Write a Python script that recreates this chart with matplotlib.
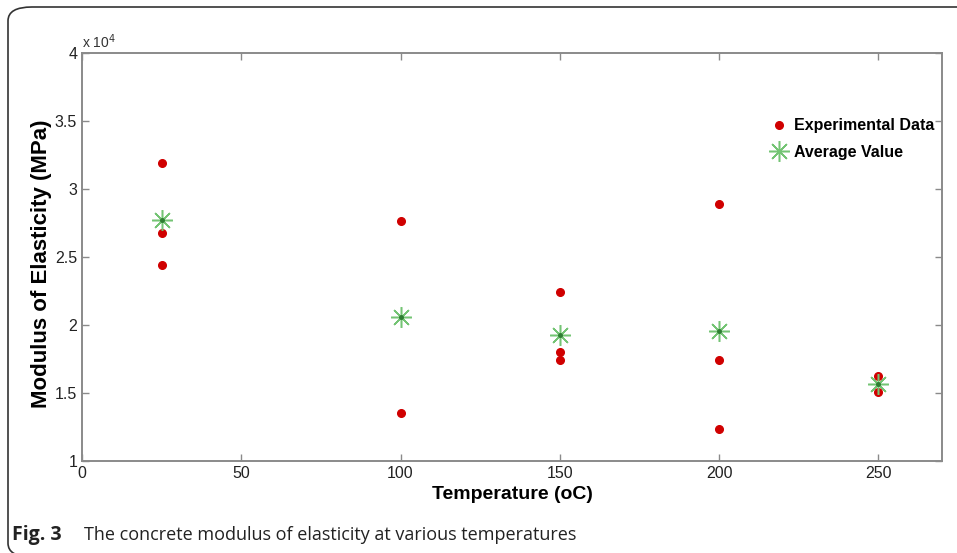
import matplotlib
matplotlib.use('Agg')
import matplotlib.pyplot as plt
from matplotlib.patches import FancyBboxPatch
from matplotlib.ticker import FuncFormatter

# temperatures (oC) and modulus readings (MPa)
temps_exp = [25, 25, 25, 100, 100, 150, 150, 150, 200, 200, 200, 250, 250]
modulus_exp = [31900, 26800, 24400, 27650, 13530, 22430, 18000, 17430,
               28900, 17430, 12350, 16250, 15070]

temps_avg = [25, 100, 150, 200, 250]
modulus_avg = [27700, 20590, 19260, 19560, 15660]

plt.rcParams['font.family'] = ['Liberation Sans Narrow', 'Liberation Sans', 'DejaVu Sans']

fig = plt.figure(figsize=(9.57, 5.53), dpi=100)

# rounded frame around the figure panel (right and bottom run off the picture)
frame = FancyBboxPatch((8 / 957, -4 / 553), 1.2, 1 - 3 / 553,
                       boxstyle="round,pad=0,rounding_size=0.025",
                       transform=fig.transFigure, fill=False,
                       edgecolor='#333333', linewidth=1.2, clip_on=False)
fig.patches.append(frame)

ax = fig.add_axes([82 / 957, 92 / 553, 860 / 957, 408 / 553])

ax.plot(temps_exp, modulus_exp, 'o', color='#d00000', markersize=5.5,
        label='Experimental Data', linestyle='none')
ax.plot(temps_avg, modulus_avg, linestyle='none', marker=(8, 2, 0),
        markersize=15, color='#74c474', markeredgewidth=1.1,
        label='Average Value')
ax.plot(temps_avg, modulus_avg, linestyle='none', marker='o',
        markersize=2.5, color='#2e7d32')

ax.set_xlim(0, 270)
ax.set_ylim(10000, 40000)
ax.set_xticks([0, 50, 100, 150, 200, 250])
ax.set_yticks([10000, 15000, 20000, 25000, 30000, 35000, 40000])
ax.yaxis.set_major_formatter(FuncFormatter(lambda v, p: '%g' % (v / 1e4)))

for s in ax.spines.values():
    s.set_color('#8a8a8a')
    s.set_linewidth(1.4)
ax.tick_params(direction='in', length=5, width=1, color='#8a8a8a',
               top=True, right=True, labelsize=11.5, labelcolor='#222222')

ax.text(0, 1.005, r'x 10$^4$', transform=ax.transAxes, fontsize=10,
        color='#333333', ha='left', va='bottom')

ax.set_xlabel('Temperature (oC)', fontsize=14, fontweight='bold', labelpad=4)
fig.text(42 / 957, 1 - 264 / 553, 'Modulus of Elasticity (MPa)', rotation=90,
         fontsize=16, fontweight='bold', ha='center', va='center')

ax.legend(loc='upper right', bbox_to_anchor=(1.0, 0.86), frameon=False,
          prop={'weight': 'bold', 'size': 11.5}, handletextpad=0.4,
          handlelength=1.0, labelspacing=0.75, borderaxespad=0.1)

fig.text(12 / 957, 1 - 535 / 553, 'Fig. 3', fontsize=14, fontweight='bold',
         family=['Open Sans', 'DejaVu Sans'], va='center', color='#222222')
fig.text(84 / 957, 1 - 535 / 553,
         'The concrete modulus of elasticity at various temperatures',
         fontsize=13, family=['Open Sans', 'DejaVu Sans'], va='center',
         color='#222222')

fig.savefig('out.png', dpi=100)
